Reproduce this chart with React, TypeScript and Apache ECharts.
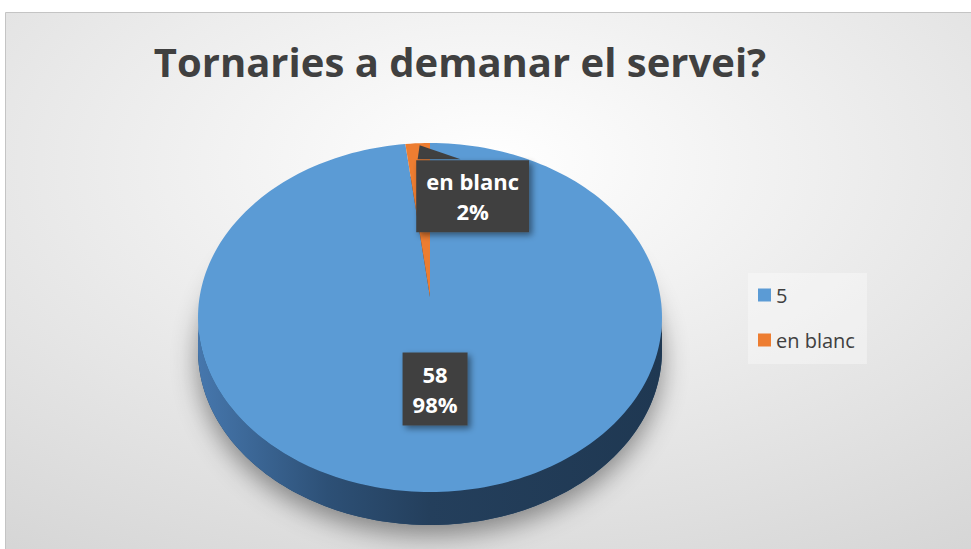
import React, { useEffect, useRef } from "react";
import * as echarts from "echarts";

const TITLE = "Tornaries a demanar el servei?";
const categories = ["5", "en blanc"];
const values = [58, 1];
const colors = ["#5b9bd5", "#ed7d31"];

const W = 971;
const H = 549;
const CX = 430;
const CY = 317.5;
const RX = 232;
const RY = 174.5;
const APEX_Y = 297;
const DEPTH = 33;
const FONT = '"Open Sans", "Noto Sans", sans-serif';

function pt(theta: number, dy = 0): number[] {
  return [CX + RX * Math.sin(theta), CY - RY * Math.cos(theta) + dy];
}

function arcPts(a0: number, a1: number, dy = 0): number[][] {
  const n = Math.max(2, Math.ceil(Math.abs(a1 - a0) / (Math.PI / 120)));
  const out: number[][] = [];
  for (let k = 0; k <= n; k++) out.push(pt(a0 + ((a1 - a0) * k) / n, dy));
  return out;
}

export default function App() {
  const ref = useRef<HTMLDivElement>(null);
  useEffect(() => {
    if (!ref.current) return;
    const chart = echarts.init(ref.current, null, { renderer: "svg" });
    const total = values.reduce((a, b) => a + b, 0);

    const renderItem = (params: any) => {
      const i = params.seriesIndex;
      const before = values.slice(0, i).reduce((a, b) => a + b, 0);
      const a0 = (before / total) * Math.PI * 2;
      const a1 = ((before + values[i]) / total) * Math.PI * 2;
      const children: any[] = [];

      if (i === 0) {
        children.push({
          type: "polygon",
          shape: { points: arcPts(0, Math.PI * 2, DEPTH) },
          style: {
            fill: "#23405e",
            shadowBlur: 26,
            shadowOffsetY: 10,
            shadowColor: "rgba(0,0,0,0.42)",
          },
        });
      }
      const s0 = Math.max(a0, Math.PI / 2);
      const s1 = Math.min(a1, (Math.PI * 3) / 2);
      if (s1 > s0) {
        const top = arcPts(s0, s1, 0);
        const bot = arcPts(s0, s1, DEPTH).reverse();
        children.push({
          type: "polygon",
          shape: { points: top.concat(bot) },
          style: {
            fill: {
              type: "linear",
              x: 0,
              y: 0,
              x2: 1,
              y2: 0,
              colorStops: [
                { offset: 0, color: "#4677ad" },
                { offset: 0.28, color: "#2d5076" },
                { offset: 0.5, color: "#243f5c" },
                { offset: 1, color: "#1f3852" },
              ],
            },
          },
        });
      }
      children.push({
        type: "polygon",
        shape: { points: [[CX, APEX_Y]].concat(arcPts(a0, a1, 0)) },
        style: { fill: colors[i] },
      });

      const mid = (a0 + a1) / 2;
      const pct = Math.round((values[i] / total) * 100) + "%";
      const labelStyle: any = {
        fill: "#ffffff",
        font: `bold 22px ${FONT}`,
        align: "center",
        verticalAlign: "middle",
        textAlign: "center",
        textVerticalAlign: "middle",
        lineHeight: 30,
        backgroundColor: "#404040",
        shadowBlur: 6,
        shadowColor: "rgba(0,0,0,0.45)",
        shadowOffsetX: 3,
        shadowOffsetY: 3,
      };
      if (i === 0) {
        const f = 0.41;
        const x = CX + RX * f * Math.sin(mid);
        const y = CY - RY * f * Math.cos(mid);
        children.push({
          type: "text",
          x,
          y,
          style: { ...labelStyle, text: values[i] + "\n" + pct, padding: [7, 10, 6, 10] },
        });
      } else {
        const e = pt(mid);
        const bx = e[0] + 55;
        const by = e[1] + 53;
        children.push({
          type: "polygon",
          shape: {
            points: [
              [e[0] + 2, e[1] + 2],
              [bx - 55, by - 37],
              [bx - 12, by - 37],
            ],
          },
          style: { fill: "#404040" },
        });
        children.push({
          type: "text",
          x: bx,
          y: by,
          style: { ...labelStyle, text: categories[i] + "\n" + pct, padding: [6, 10, 6, 10] },
        });
      }
      return { type: "group", children };
    };

    chart.setOption({
      animation: false,
      graphic: [
        {
          type: "rect",
          z: -10,
          silent: true,
          shape: { x: 5.5, y: 12.5, width: W - 4, height: H - 10 },
          style: {
            fill: {
              type: "radial",
              x: 0.5,
              y: 0.28,
              r: 0.95,
              colorStops: [
                { offset: 0, color: "#ffffff" },
                { offset: 1, color: "#d2d2d2" },
              ],
            },
            stroke: "#c4c4c4",
            lineWidth: 1,
          },
        },
      ],
      title: {
        text: TITLE,
        left: 455,
        top: 36,
        textAlign: "center",
        textStyle: {
          fontFamily: FONT,
          fontWeight: "bold",
          fontSize: 40,
          color: "#404040",
        },
      },
      legend: {
        orient: "vertical",
        left: 748,
        top: 273,
        width: 120,
        data: categories,
        icon: "rect",
        itemWidth: 13,
        itemHeight: 13,
        itemGap: 25,
        padding: [12, 12, 14, 10],
        backgroundColor: "rgba(255,255,255,0.35)",
        textStyle: { fontFamily: FONT, fontSize: 20, color: "#404040" },
      },
      series: categories.map((name, i) => ({
        type: "custom",
        name,
        coordinateSystem: "none",
        itemStyle: { color: colors[i] },
        data: [values[i]],
        renderItem,
      })),
    });
    return () => chart.dispose();
  }, []);
  return (
    <div
      ref={ref}
      style={{ position: "absolute", left: 0, top: 0, width: W, height: H }}
    />
  );
}
